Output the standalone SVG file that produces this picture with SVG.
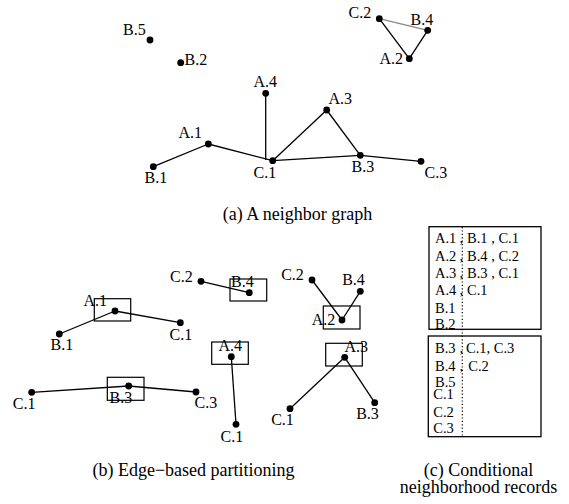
<svg xmlns="http://www.w3.org/2000/svg" width="569" height="504" viewBox="0 0 569 504">
  <style>
    text { font-family: "Liberation Serif", "Times New Roman", serif; fill: #000; }
    .lbl { font-size: 16px; }
    .cap { font-size: 18px; text-anchor: middle; }
    .rec { font-size: 14.5px; }
    .dot { fill: #000; }
    .edge { stroke: #000; stroke-width: 1.3; fill: none; }
    .soft { stroke: #888; stroke-width: 1.3; fill: none; }
    .part { fill: none; stroke: #000; stroke-width: 1.2; }
    .box { fill: none; stroke: #000; stroke-width: 1.3; }
    .sep { stroke: #000; stroke-width: 1.2; stroke-dasharray: 1.2 2.2; }
  </style>

  <!-- (a) neighbor graph: connectors -->
  <g id="edges-a">
    <line class="edge" x1="153.3" y1="166.7" x2="208.3" y2="144"/>
    <line class="edge" x1="208.3" y1="144" x2="272.7" y2="160.7"/>
    <line class="edge" x1="265.7" y1="93.3" x2="265.7" y2="160"/>
    <line class="edge" x1="272.7" y1="160.7" x2="326.7" y2="110"/>
    <line class="edge" x1="326.7" y1="110" x2="360.3" y2="155.3"/>
    <line class="edge" x1="272.7" y1="160.7" x2="360.3" y2="155.3"/>
    <line class="edge" x1="360.3" y1="155.3" x2="421" y2="161.3"/>
    <line class="soft" x1="379.3" y1="18.7" x2="427.7" y2="30.3"/>
    <line class="edge" x1="379.3" y1="18.7" x2="409.3" y2="58.7"/>
    <line class="edge" x1="427.7" y1="30.3" x2="409.3" y2="58.7"/>
  </g>

  <!-- (a) neighbor graph: nodes -->
  <g id="a-B5"><circle class="dot" cx="150" cy="40" r="3.4"/><text class="lbl" x="123" y="35">B.5</text></g>
  <g id="a-B2"><circle class="dot" cx="180.7" cy="62.7" r="3.4"/><text class="lbl" x="184.5" y="65">B.2</text></g>
  <g id="a-A4"><circle class="dot" cx="265.7" cy="93.3" r="3.4"/><text class="lbl" x="253.5" y="87">A.4</text></g>
  <g id="a-A3"><circle class="dot" cx="326.7" cy="110" r="3.4"/><text class="lbl" x="328.5" y="104">A.3</text></g>
  <g id="a-A1"><circle class="dot" cx="208.3" cy="144" r="3.4"/><text class="lbl" x="178.5" y="138">A.1</text></g>
  <g id="a-C1"><circle class="dot" cx="272.7" cy="160.7" r="3.4"/><text class="lbl" x="253.5" y="178">C.1</text></g>
  <g id="a-B3"><circle class="dot" cx="360.3" cy="155.3" r="3.4"/><text class="lbl" x="351.5" y="172">B.3</text></g>
  <g id="a-C3"><circle class="dot" cx="421" cy="161.3" r="3.4"/><text class="lbl" x="424.5" y="178">C.3</text></g>
  <g id="a-B1"><circle class="dot" cx="153.3" cy="166.7" r="3.4"/><text class="lbl" x="144.5" y="183">B.1</text></g>
  <g id="a-C2"><circle class="dot" cx="379.3" cy="18.7" r="3.4"/><text class="lbl" x="348.5" y="18">C.2</text></g>
  <g id="a-B4"><circle class="dot" cx="427.7" cy="30.3" r="3.4"/><text class="lbl" x="410.5" y="25">B.4</text></g>
  <g id="a-A2"><circle class="dot" cx="409.3" cy="58.7" r="3.4"/><text class="lbl" x="379.5" y="64">A.2</text></g>

  <text class="cap" x="297.5" y="220">(a) A neighbor graph</text>

  <!-- (b) edge-based partitions: connectors -->
  <g id="edges-b">
    <line class="edge" x1="201" y1="281.3" x2="249.3" y2="292.7"/>
    <line class="edge" x1="59.3" y1="334" x2="115" y2="311"/>
    <line class="edge" x1="115" y1="311" x2="180.3" y2="322.7"/>
    <line class="edge" x1="231.3" y1="356.7" x2="236" y2="424.3"/>
    <line class="edge" x1="31.7" y1="392.3" x2="128.7" y2="386"/>
    <line class="edge" x1="128.7" y1="386" x2="196" y2="392"/>
    <line class="edge" x1="312" y1="280" x2="342" y2="320"/>
    <line class="edge" x1="360.3" y1="291.3" x2="342" y2="320"/>
    <line class="edge" x1="344.7" y1="357.3" x2="290" y2="408.7"/>
    <line class="edge" x1="344.7" y1="357.3" x2="374.7" y2="402.7"/>
  </g>

  <!-- (b) edge-based partitions: nodes -->
  <g id="b-C2"><circle class="dot" cx="201" cy="281.3" r="3.4"/><text class="lbl" x="170" y="281.7">C.2</text></g>
  <g id="b-B4"><rect class="part" x="230" y="279" width="36.7" height="22"/><circle class="dot" cx="249.3" cy="292.7" r="3.4"/><text class="lbl" x="231" y="286.7">B.4</text></g>
  <g id="b-A1"><rect class="part" x="94.3" y="298.7" width="36.4" height="22.3"/><circle class="dot" cx="115" cy="311" r="3.4"/><text class="lbl" x="83.5" y="306">A.1</text></g>
  <g id="b-B1"><circle class="dot" cx="59.3" cy="334" r="3.4"/><text class="lbl" x="50.5" y="350">B.1</text></g>
  <g id="b-C1a"><circle class="dot" cx="180.3" cy="322.7" r="3.4"/><text class="lbl" x="169.5" y="340">C.1</text></g>
  <g id="b-A4"><rect class="part" x="211.7" y="342" width="36.6" height="22.3"/><circle class="dot" cx="231.3" cy="356.7" r="3.4"/><text class="lbl" x="218.5" y="350.7">A.4</text></g>
  <g id="b-C1b"><circle class="dot" cx="236" cy="424.3" r="3.4"/><text class="lbl" x="220.5" y="441.7">C.1</text></g>
  <g id="b-B3"><rect class="part" x="107.3" y="377.3" width="36.7" height="23"/><circle class="dot" cx="128.7" cy="386" r="3.4"/><text class="lbl" x="109.5" y="402.7">B.3</text></g>
  <g id="b-C1c"><circle class="dot" cx="31.7" cy="392.3" r="3.4"/><text class="lbl" x="12.8" y="409.3">C.1</text></g>
  <g id="b-C3"><circle class="dot" cx="196" cy="392" r="3.4"/><text class="lbl" x="194.5" y="408.3">C.3</text></g>
  <g id="b-C2b"><circle class="dot" cx="312" cy="280" r="3.4"/><text class="lbl" x="281.2" y="280">C.2</text></g>
  <g id="b-B4b"><circle class="dot" cx="360.3" cy="291.3" r="3.4"/><text class="lbl" x="342.2" y="285">B.4</text></g>
  <g id="b-A2"><rect class="part" x="323.3" y="306" width="36.7" height="23"/><circle class="dot" cx="342" cy="320" r="3.4"/><text class="lbl" x="311.8" y="325">A.2</text></g>
  <g id="b-A3"><rect class="part" x="325.7" y="343.3" width="36.6" height="22.7"/><circle class="dot" cx="344.7" cy="357.3" r="3.4"/><text class="lbl" x="344.5" y="351.7">A.3</text></g>
  <g id="b-C1d"><circle class="dot" cx="290" cy="408.7" r="3.4"/><text class="lbl" x="271.2" y="425">C.1</text></g>
  <g id="b-B3b"><circle class="dot" cx="374.7" cy="402.7" r="3.4"/><text class="lbl" x="356.2" y="419.3">B.3</text></g>

  <text class="cap" x="193.5" y="476">(b) Edge−based partitioning</text>

  <!-- (c) conditional neighborhood records -->
  <g id="records-1">
    <rect class="box" x="429" y="226.7" width="112" height="102.6"/>
    <text class="rec" x="435" y="243.3">A.1</text><text class="rec" x="459.5" y="243.3">,</text><text class="rec" x="467" y="243.3">B.1 , C.1</text>
    <text class="rec" x="435" y="260.7">A.2</text><text class="rec" x="459.5" y="260.7">,</text><text class="rec" x="467" y="260.7">B.4 , C.2</text>
    <text class="rec" x="435" y="278.3">A.3</text><text class="rec" x="459.5" y="278.3">,</text><text class="rec" x="467" y="278.3">B.3 , C.1</text>
    <text class="rec" x="435" y="295">A.4</text><text class="rec" x="459.5" y="295">,</text><text class="rec" x="467" y="295">C.1</text>
    <text class="rec" x="435" y="312.7">B.1</text>
    <text class="rec" x="435" y="329">B.2</text>
  </g>
  <g id="records-2">
    <rect class="box" x="428.3" y="336" width="112.7" height="100.7"/>
    <text class="rec" x="435" y="353.3">B.3</text><text class="rec" x="459.5" y="353.3">,</text><text class="rec" x="466" y="353.3">C.1, C.3</text>
    <text class="rec" x="435" y="370.7">B.4</text><text class="rec" x="459.5" y="370.7">,</text><text class="rec" x="468.3" y="370.7">C.2</text>
    <text class="rec" x="435" y="386.7">B.5</text>
    <text class="rec" x="433.3" y="399.3">C.1</text>
    <text class="rec" x="433.3" y="416.7">C.2</text>
    <text class="rec" x="433.3" y="433.3">C.3</text>
  </g>
  <line class="sep" x1="462.3" y1="227" x2="462.3" y2="437"/>

  <text class="cap" x="478.5" y="476">(c) Conditional</text>
  <text class="cap" x="478.5" y="493.3">neighborhood records</text>
</svg>
